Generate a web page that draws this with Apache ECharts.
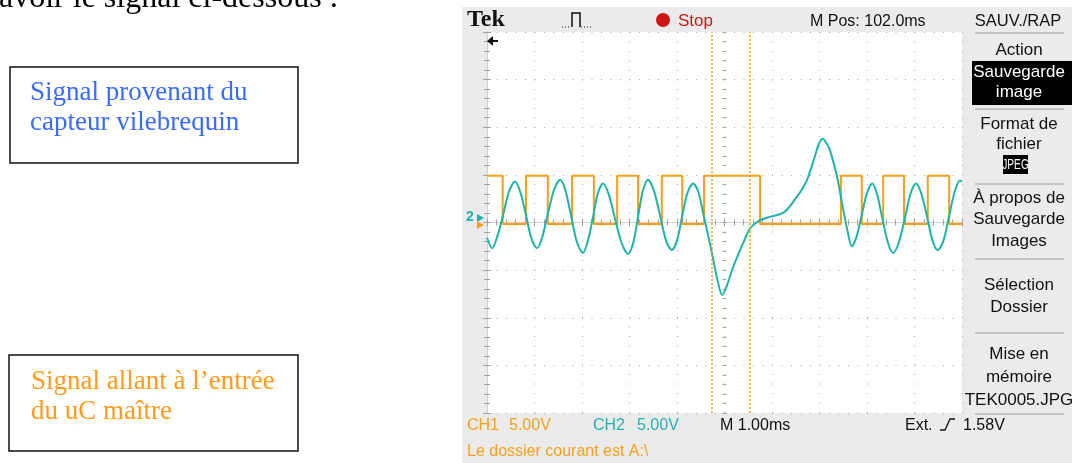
<!DOCTYPE html>
<html>
<head>
<meta charset="utf-8">
<script src="https://cdn.jsdelivr.net/npm/echarts@6/dist/echarts.min.js"></script>
<style>
  body { margin: 0; background: #fff; }
  #scope { width: 1072px; height: 463px; }
</style>
</head>
<body>
<div id="scope"></div>
<script>
// CH2 : signal capteur vilebrequin (temps en ms, tension en V a l'ecran)
const ch2Time = [0.00, 0.11, 0.22, 0.34, 0.46, 0.59, 0.70, 0.82, 0.93, 1.05, 1.16, 1.28, 1.41, 1.54, 1.65,
  1.77, 1.89, 2.02, 2.12, 2.23, 2.33, 2.44, 2.56, 2.69, 2.83, 2.97, 3.08, 3.18, 3.28, 3.39, 3.51,
  3.64, 3.77, 3.89, 4.00, 4.11, 4.22, 4.34, 4.45, 4.55, 4.63, 4.74, 4.85, 4.95, 5.06, 5.18, 5.39,
  5.54, 5.70, 5.89, 6.05, 6.23, 6.36, 6.48, 6.61, 6.74, 6.90, 6.99, 7.07, 7.15, 7.22, 7.37, 7.49,
  7.60, 7.68, 7.78, 7.89, 8.00, 8.11, 8.21, 8.32, 8.44, 8.55, 8.67, 8.80, 8.92, 9.03, 9.14, 9.26,
  9.38, 9.49, 9.61, 9.73, 9.85, 9.96, 10.0];
const ch2Volts = [-1.6, -2.7, -1.4, 0.8, 3.2, 4.3, 3.2, 0.8, -1.6, -2.7, -1.6, 0.9, 3.4, 4.5, 3.4,
  0.7, -2.0, -3.2, -2.0, 0.5, 3.0, 4.1, 3.0, 0.5, -2.1, -3.3, -2.1, 0.6, 3.3, 4.5, 3.4,
  0.8, -1.9, -2.9, -1.9, 0.7, 3.1, 4.1, 3.2, 1.0, -0.8, -3.3, -6.0, -7.6, -6.5, -4.7, -2.2,
  -0.6, 0.1, 0.5, 0.7, 1.0, 1.6, 2.4, 3.3, 4.5, 6.9, 8.3, 8.8, 8.3, 7.6, 4.8, 1.6,
  -1.1, -2.5, -1.5, 0.8, 3.1, 4.1, 3.0, 0.5, -2.1, -3.2, -2.1, 0.5, 3.1, 4.1, 3.1, 0.7,
  -1.9, -2.9, -1.9, 0.7, 3.3, 4.4, 4.3];

// CH1 : signal vers l'entree du uC maitre (fronts en ms)
const ch1Edges = [0.33, 0.82, 1.28, 1.79, 2.25, 2.74, 3.18, 3.68, 4.11, 4.57, 5.75, 7.45, 7.89, 8.34, 8.78, 9.28, 9.73];
const ch1High = 4.9;
const ch1Low = -0.15;

// curseurs
const cursorTimes = [4.74, 5.54];

const menuLines = [
  ['Action', 56, false], ['Sauvegarde', 78, true], ['image', 98, true],
  ['Format de', 130, false], ['fichier', 150, false],
  ['À propos de', 204, false], ['Sauvegarde', 225, false], ['Images', 247, false],
  ['Sélection', 291, false], ['Dossier', 313, false],
  ['Mise en', 360, false], ['mémoire', 383, false], ['TEK0005.JPG', 406, false]
];
const menuSeps = [33, 109, 184, 259, 333, 414];

const ORANGE = '#f5a01a';
const TEAL = '#1fb3ab';
const SANS = 'Liberation Sans';

// construit la courbe carree a partir des fronts
let ch1Data = [[0, ch1High]];
let level = ch1High;
ch1Edges.forEach(t => {
  ch1Data.push([t, level]);
  level = level === ch1High ? ch1Low : ch1High;
  ch1Data.push([t, level]);
});
ch1Data.push([10, level]);

const ch2Data = ch2Time.map((t, i) => [t, ch2Volts[i]]);

function txt(x, baseline, text, size, color, opts) {
  opts = opts || {};
  return {
    type: 'text', x: x, y: baseline - size * 0.34, z: 20, scaleX: opts.sx || 1,
    style: {
      text: text, fill: color,
      font: (opts.weight || 'normal') + ' ' + size + 'px ' + (opts.family || SANS),
      align: opts.align || 'left', verticalAlign: 'middle'
    }
  };
}
function rect(x, y, w, h, fill, z, stroke) {
  return {
    type: 'rect', z: z, shape: { x: x, y: y, width: w, height: h },
    style: stroke ? { fill: 'none', stroke: stroke, lineWidth: 1.5 } : { fill: fill }
  };
}
function line(pts, color, width, dash) {
  return { type: 'polyline', z: 20, shape: { points: pts }, style: { stroke: color, lineWidth: width, lineDash: dash || null, fill: null } };
}

let decor = [
  rect(462, 7, 610, 456, '#ebebeb', -20),
  rect(487, 32, 475, 381, '#ffffff', -10),
  // document
  txt(-1, 9, 'avoir le signal ci-dessous :', 32, '#000', { family: 'Liberation Serif' }),
  rect(10, 67, 288, 96, null, 5, '#111'),
  txt(30, 102, 'Signal provenant du', 27, '#3a6bff', { family: 'Liberation Serif' }),
  txt(30, 132, 'capteur vilebrequin', 27, '#3a6bff', { family: 'Liberation Serif' }),
  rect(9, 355, 289, 96, null, 5, '#111'),
  txt(31, 391, 'Signal allant à l’entrée', 27, '#ff9a1a', { family: 'Liberation Serif' }),
  txt(31, 421, 'du uC maître', 27, '#ff9a1a', { family: 'Liberation Serif' }),
  // en-tete
  txt(467, 28, 'Tek', 24, '#111', { family: 'Liberation Serif', weight: 'bold' }),
  line([[572, 27], [572, 13], [580, 13], [580, 27]], '#111', 1.5),
  line([[562, 27], [571, 27]], '#111', 1, [1, 2]),
  line([[581, 27], [592, 27]], '#111', 1, [1, 2]),
  { type: 'circle', z: 20, shape: { cx: 663, cy: 20, r: 7 }, style: { fill: '#d01414' } },
  txt(678, 27, 'Stop', 17, '#c81818'),
  txt(810, 27, 'M Pos: 102.0ms', 16, '#111'),
  txt(1018, 27, 'SAUV./RAP', 16.5, '#111', { align: 'center' }),
  // menu
  rect(972, 61, 100, 44, '#000', 10),
  rect(1003, 155, 25, 19, '#000', 10),
  txt(1015.5, 170, 'JPEG', 15, '#fff', { align: 'center', sx: 0.68 }),
  // marqueurs
  txt(466, 222, '2', 14, TEAL, { weight: 'bold' }),
  { type: 'polygon', z: 20, shape: { points: [[477, 214], [484, 218], [477, 222]] }, style: { fill: TEAL } },
  { type: 'polygon', z: 20, shape: { points: [[477, 221], [484, 225], [477, 229]] }, style: { fill: ORANGE } },
  line([[488, 41], [498, 41]], '#111', 2),
  { type: 'polygon', z: 20, shape: { points: [[487, 41], [493, 36], [493, 46]] }, style: { fill: '#111' } },
  // bas
  txt(467, 431, 'CH1', 16, ORANGE), txt(509, 431, '5.00V', 16, ORANGE),
  txt(593, 431, 'CH2', 16, TEAL), txt(637, 431, '5.00V', 16, TEAL),
  txt(720, 431, 'M 1.00ms', 16, '#111'),
  txt(905, 431, 'Ext.', 16, '#111'),
  line([[940, 430], [945, 430], [950, 419], [955, 419]], '#111', 1.3),
  txt(963, 431, '1.58V', 16, '#111'),
  txt(467, 457, 'Le dossier courant est A:\\', 16, ORANGE)
];
menuLines.forEach(m => decor.push(txt(1019, m[1], m[0], 17, m[2] ? '#fff' : '#111', { align: 'center' })));
menuSeps.forEach(y => decor.push(line([[975, y], [1064, y]], '#9a9a9a', 1)));

const dots = { show: true, lineStyle: { color: '#a8a8a8', width: 1, type: [1, 8.5] } };
function axisX(position, offset, withGrid) {
  return {
    type: 'value', min: 0, max: 10, interval: 1, position: position, offset: offset,
    axisLine: { show: offset === 0, lineStyle: { color: '#d0d0d0' } },
    axisTick: { show: true, inside: true, length: offset === 0 ? 4 : 2, lineStyle: { color: '#a0a0a0' } },
    minorTick: { show: true, splitNumber: 5, length: offset === 0 ? 3 : 2, lineStyle: { color: '#a0a0a0' } },
    axisLabel: { show: false },
    splitLine: withGrid ? dots : { show: false }
  };
}
function axisY(position, offset, withGrid) {
  return {
    type: 'value', min: -20, max: 20, interval: 5, position: position, offset: offset,
    axisLine: { show: offset === 0, lineStyle: { color: '#d0d0d0' } },
    axisTick: { show: true, inside: true, length: offset === 0 ? 4 : 2, lineStyle: { color: '#a0a0a0' } },
    minorTick: { show: true, splitNumber: 5, length: offset === 0 ? 3 : 2, lineStyle: { color: '#a0a0a0' } },
    axisLabel: { show: false },
    splitLine: withGrid ? dots : { show: false }
  };
}

const chart = echarts.init(document.getElementById('scope'));
chart.setOption({
  animation: false,
  grid: { left: 487, top: 32, width: 475, height: 381 },
  xAxis: [axisX('bottom', 0, true), axisX('top', 0, false), axisX('bottom', -190.5, false), axisX('top', -190.5, false)],
  yAxis: [axisY('left', 0, true), axisY('right', 0, false), axisY('left', -237.5, false), axisY('right', -237.5, false)],
  graphic: decor,
  series: [
    {
      name: 'CH1', type: 'line', data: ch1Data, showSymbol: false, z: 3,
      lineStyle: { color: ORANGE, width: 2 },
      markLine: {
        silent: true, symbol: 'none', label: { show: false },
        lineStyle: { color: ORANGE, type: [2, 2], width: 1.5 },
        data: cursorTimes.map(t => ({ xAxis: t }))
      }
    },
    {
      name: 'CH2', type: 'line', data: ch2Data, showSymbol: false, z: 4,
      smooth: 0.3,
      lineStyle: { color: TEAL, width: 2 }
    }
  ]
});
</script>
</body>
</html>
